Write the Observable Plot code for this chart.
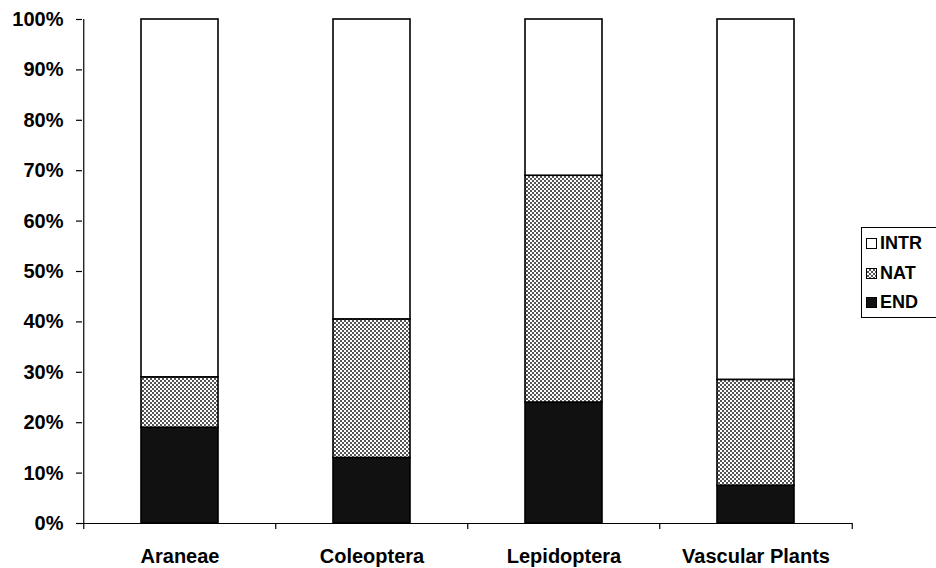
<!DOCTYPE html>
<html>
<head>
<meta charset="utf-8">
<script src="https://cdn.jsdelivr.net/npm/d3@7"></script>
<script src="https://cdn.jsdelivr.net/npm/@observablehq/plot@0.6"></script>
<style>
  html, body { margin: 0; padding: 0; background: #fff; overflow: hidden; }
  #wrap { position: relative; width: 936px; height: 568px; font-family: "Liberation Sans", Arial, sans-serif; }
  #legend { position: absolute; left: 861px; top: 227px; width: 90px; height: 91px; border: 1px solid #000; box-sizing: border-box; background: #fff; }
  .item { position: absolute; left: 4px; display: flex; align-items: center; font-size: 18px; font-weight: bold; color: #000; }
  .sw { width: 11px; height: 11px; border: 1px solid #000; box-sizing: border-box; margin-right: 3px; }
</style>
</head>
<body>
<div id="wrap"></div>
<script>
const categories = ["Araneae", "Coleoptera", "Lepidoptera", "Vascular Plants"];
const endValues  = [19, 13, 24, 7.5];
const natValues  = [10, 27.5, 45, 21];
const intrValues = [71, 59.5, 31, 71.5];
const seriesNames = ["END", "NAT", "INTR"];
const yTicks = [0, 10, 20, 30, 40, 50, 60, 70, 80, 90, 100];

const series = [endValues, natValues, intrValues];
const data = [];
categories.forEach((c, i) => {
  seriesNames.forEach((s, j) => data.push({cat: c, type: s, value: series[j][i]}));
});

const fills = {END: "#111", NAT: "url(#natPattern)", INTR: "#fff"};

const halfStep = 96.25;
const chart = Plot.plot({
  width: 936,
  height: 568,
  marginLeft: 82,
  marginRight: 84,
  marginTop: 19,
  marginBottom: 45,
  style: {fontFamily: "'Liberation Sans', Arial, sans-serif", fontSize: "20px", fontWeight: "bold", color: "#000", background: "#fff"},
  x: {domain: categories, paddingInner: 0.6, paddingOuter: 0.3, label: null},
  y: {domain: [0, 100], label: null},
  marks: [
    Plot.barY(data, {x: "cat", y: "value", fill: d => fills[d.type], stroke: "#000", strokeWidth: 1.6, order: seriesNames}),
    Plot.ruleY([0], {stroke: "#000", strokeWidth: 1.2}),
    Plot.ruleX([categories[0]], {dx: -halfStep, stroke: "#000", strokeWidth: 1.2}),
    Plot.ruleX(categories, {x: d => d, dx: -halfStep, y1: 0, y2: 0, insetBottom: -6, stroke: "#000", strokeWidth: 1.2}),
    Plot.ruleX([categories[categories.length - 1]], {dx: halfStep, y1: 0, y2: 0, insetBottom: -6, stroke: "#000", strokeWidth: 1.2}),
    Plot.axisY({ticks: yTicks, tickSize: 6, tickPadding: 13, tickFormat: d => d + "%", stroke: "#000", strokeWidth: 1.2}),
    Plot.axisX({tickSize: 0, tickPadding: 25})
  ]
});

const ns = "http://www.w3.org/2000/svg";
const defs = document.createElementNS(ns, "defs");
defs.innerHTML = '<pattern id="natPattern" width="4" height="4" patternUnits="userSpaceOnUse">' +
  '<rect width="4" height="4" fill="#fff"/>' +
  '<rect x="0" y="0" width="2" height="2" fill="#555"/>' +
  '<rect x="2" y="2" width="2" height="2" fill="#555"/></pattern>';
chart.insertBefore(defs, chart.firstChild);

const wrap = document.getElementById("wrap");
wrap.appendChild(chart);

const legend = document.createElement("div");
legend.id = "legend";
const legendOrder = ["INTR", "NAT", "END"];
const legendFills = {INTR: "#fff", NAT: "repeating-conic-gradient(#555 0% 25%, #fff 0% 50%) 0 0 / 4px 4px", END: "#111"};
legendOrder.forEach((s, k) => {
  const it = document.createElement("div");
  it.className = "item";
  it.style.top = (5 + k * 29.5) + "px";
  const sw = document.createElement("div");
  sw.className = "sw";
  sw.style.background = legendFills[s];
  it.appendChild(sw);
  const t = document.createElement("span");
  t.textContent = s;
  it.appendChild(t);
  legend.appendChild(it);
});
wrap.appendChild(legend);
</script>
</body>
</html>
